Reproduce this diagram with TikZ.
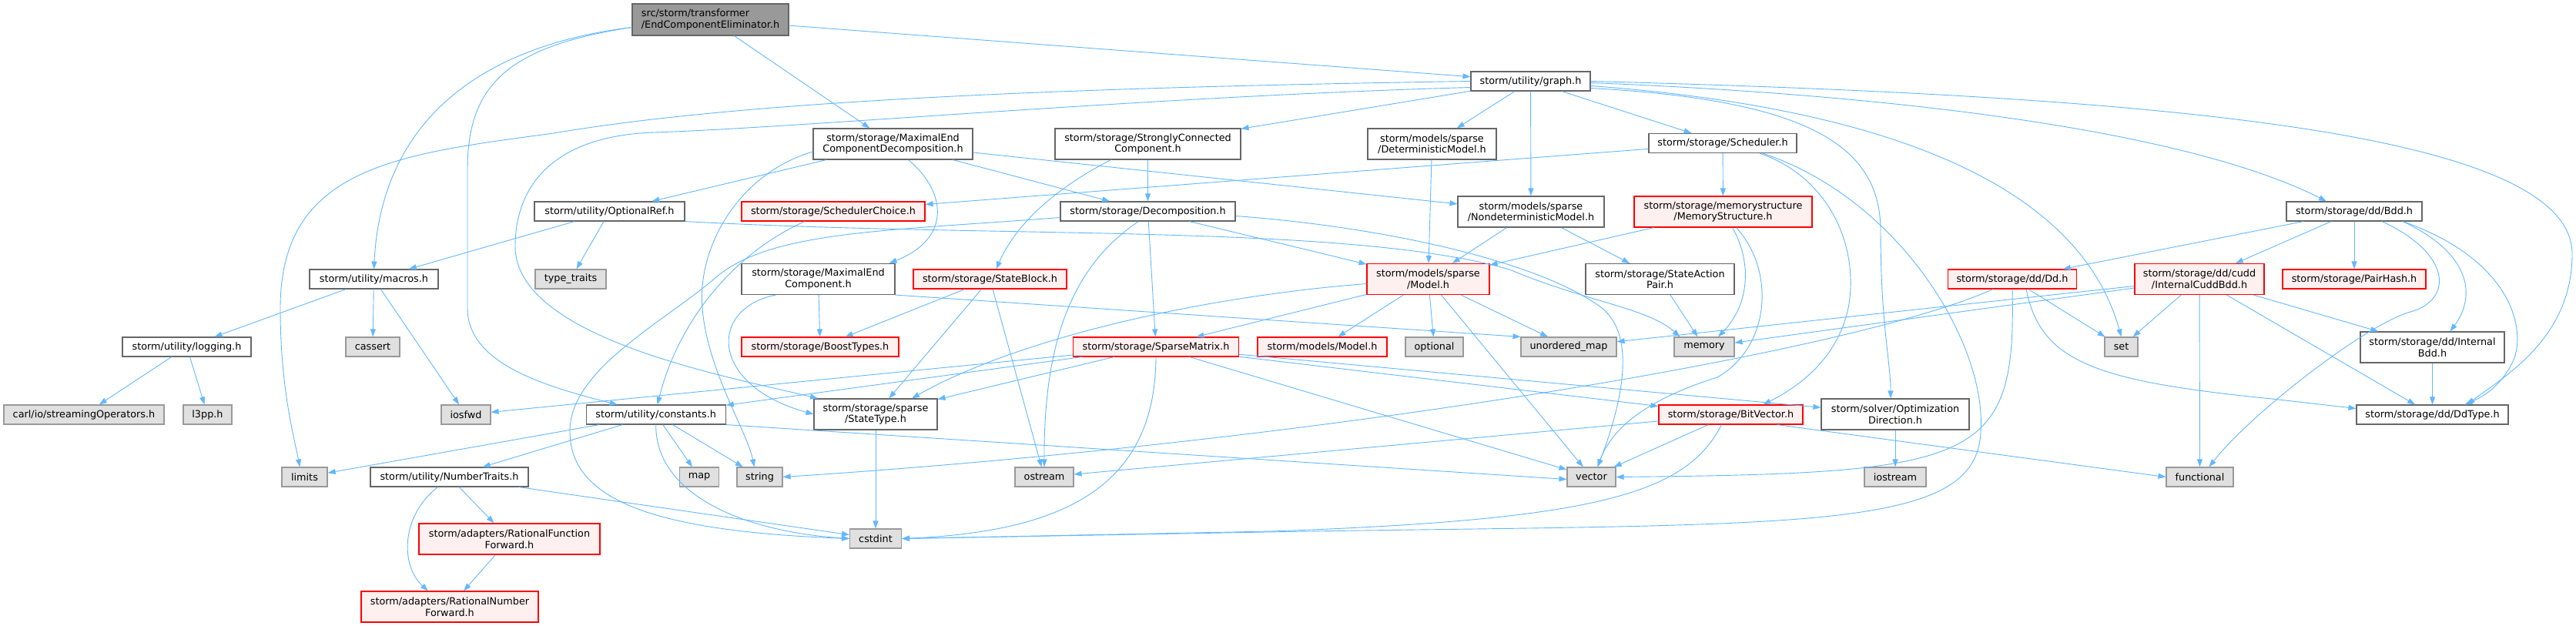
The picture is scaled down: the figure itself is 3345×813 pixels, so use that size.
\documentclass[tikz,border=0pt]{standalone}
\usepackage{fontspec}
\setmainfont{DejaVu Sans}
\usepackage{xcolor}
\usetikzlibrary{arrows.meta}
\definecolor{edgeblue}{HTML}{63B8FF}
\definecolor{nodegray}{HTML}{666666}
\definecolor{rootgray}{HTML}{999999}
\definecolor{sysgray}{HTML}{999999}
\definecolor{sysfill}{HTML}{E0E0E0}
\definecolor{cutfill}{HTML}{FFF0F0}
\definecolor{cutred}{HTML}{FF0000}

\begin{document}
\begin{tikzpicture}[x=1pt,y=-1pt,
    hdr/.style={draw=nodegray, fill=white, line width=1.1pt, inner xsep=5pt, inner ysep=3pt,
        minimum height=25pt, align=center, font=\fontsize{12.8}{14.5}\selectfont},
    tall/.style={minimum height=40pt},
    mainhdr/.style={hdr, fill=rootgray},
    syshdr/.style={hdr, draw=sysgray, fill=sysfill},
    cuthdr/.style={hdr, draw=cutred, fill=cutfill},
    inc/.style={draw=edgeblue, line width=0.9pt, -{Triangle[length=10pt,width=7pt]}}]

    % 画布
    \fill[white] (0,0) rectangle (3345,813);
    \useasboundingbox (0,0) rectangle (3345,813);

    % 第一层
    \node[mainhdr, align=left, minimum width=203pt, minimum height=41pt] (root) at (922.5,25.5) {src/storm/transformer\\/EndComponentEliminator.h};
    \node[hdr, minimum width=155pt] (graph) at (1987.5,105.5) {storm/utility/graph.h};

    % 第二层
    \node[hdr, tall, minimum width=207pt] (mecd) at (1159.5,187) {storm/storage/MaximalEnd\\ComponentDecomposition.h};
    \node[hdr, tall, minimum width=241pt] (scc) at (1490.5,187) {storm/storage/StronglyConnected\\Component.h};
    \node[hdr, tall, minimum width=167pt] (detm) at (1859.5,187) {storm/models/sparse\\/DeterministicModel.h};
    \node[hdr, minimum width=192pt] (sched) at (2237,186) {storm/storage/Scheduler.h};

    % 第三层
    \node[hdr, minimum width=195pt] (optref) at (791.5,274.5) {storm/utility/OptionalRef.h};
    \node[cuthdr, minimum width=238pt] (schedchoice) at (1082,274.5) {storm/storage/SchedulerChoice.h};
    \node[hdr, minimum width=227pt] (decomp) at (1490.5,274.5) {storm/storage/Decomposition.h};
    \node[hdr, tall, minimum width=190pt] (ndm) at (1988,275) {storm/models/sparse\\/NondeterministicModel.h};
    \node[cuthdr, tall, minimum width=231pt] (memstruct) at (2237.5,275) {storm/storage/memorystructure\\/MemoryStructure.h};
    \node[hdr, minimum width=176pt] (bdd) at (3057,274.5) {storm/storage/dd/Bdd.h};

    % 第四层
    \node[hdr, minimum width=167pt] (macros) at (485.5,362.5) {storm/utility/macros.h};
    \node[syshdr, minimum width=92pt] (typetraits) at (741,362.5) {type\_traits};
    \node[hdr, tall, minimum width=199pt] (mec) at (1062.5,362.5) {storm/storage/MaximalEnd\\Component.h};
    \node[cuthdr, minimum width=199pt] (stateblock) at (1285.5,362.5) {storm/storage/StateBlock.h};
    \node[cuthdr, tall, minimum width=159pt] (model) at (1854.5,362.5) {storm/models/sparse\\/Model.h};
    \node[hdr, tall, minimum width=193pt] (sap) at (2155.5,362.5) {storm/storage/StateAction\\Pair.h};
    \node[cuthdr, minimum width=167pt] (dd) at (2613,362.5) {storm/storage/dd/Dd.h};
    \node[cuthdr, tall, minimum width=168pt] (icbdd) at (2856,362.5) {storm/storage/dd/cudd\\/InternalCuddBdd.h};
    \node[cuthdr, minimum width=186pt] (pairhash) at (3057,362.5) {storm/storage/PairHash.h};

    % 第五层
    \node[hdr, minimum width=167pt] (logging) at (242.5,450.5) {storm/utility/logging.h};
    \node[syshdr, minimum width=70pt] (cassert) at (484,450.5) {cassert};
    \node[cuthdr, minimum width=204pt] (boosttypes) at (1065,450.5) {storm/storage/BoostTypes.h};
    \node[cuthdr, minimum width=215pt] (spmat) at (1501,450.5) {storm/storage/SparseMatrix.h};
    \node[cuthdr, minimum width=168pt] (modelh) at (1717,450.5) {storm/models/Model.h};
    \node[syshdr, minimum width=75pt] (optional) at (1862.5,450.5) {optional};
    \node[syshdr, minimum width=124pt] (umap) at (2037,450.5) {unordered\_map};
    \node[syshdr, minimum width=78pt] (memory) at (2213,450.5) {memory};
    \node[syshdr, minimum width=43pt] (set) at (2754.5,450.5) {set};
    \node[hdr, tall, minimum width=187pt] (ibdd) at (3158.5,451) {storm/storage/dd/Internal\\Bdd.h};

    % 第六层
    \node[syshdr, minimum width=208pt] (carl) at (109,538.5) {carl/io/streamingOperators.h};
    \node[syshdr, minimum width=63pt] (lpp) at (269.5,538.5) {l3pp.h};
    \node[syshdr, minimum width=64pt] (iosfwd) at (605,538.5) {iosfwd};
    \node[hdr, minimum width=181pt] (consts) at (851.7,538.5) {storm/utility/constants.h};
    \node[hdr, tall, minimum width=160pt] (statetype) at (1137,538) {storm/storage/sparse\\/StateType.h};
    \node[cuthdr, minimum width=187pt] (bitvec) at (2247.5,538.5) {storm/storage/BitVector.h};
    \node[hdr, tall, minimum width=192pt] (optdir) at (2461,538) {storm/solver/Optimization\\Direction.h};
    \node[hdr, minimum width=197pt] (ddtype) at (3158.5,538.5) {storm/storage/dd/DdType.h};

    % 第七层
    \node[syshdr, minimum width=59pt] (limits) at (395.5,619.5) {limits};
    \node[hdr, minimum width=205pt] (numtraits) at (583.5,619.5) {storm/utility/NumberTraits.h};
    \node[syshdr, minimum width=51pt] (map) at (908,619.5) {map};
    \node[syshdr, minimum width=59pt] (string) at (986.5,619.5) {string};
    \node[syshdr, minimum width=76pt] (ostream) at (1356,619.5) {ostream};
    \node[syshdr, minimum width=63pt] (vector) at (2066.5,619.5) {vector};
    \node[syshdr, minimum width=80pt] (iostream) at (2461,619.5) {iostream};
    \node[syshdr, minimum width=87pt] (functional) at (2856.5,619.5) {functional};

    % 第八、九层
    \node[cuthdr, tall, minimum width=235pt] (rff) at (661.5,700) {storm/adapters/RationalFunction\\Forward.h};
    \node[syshdr, minimum width=67pt] (cstdint) at (1137,699.5) {cstdint};
    \node[cuthdr, tall, minimum width=230pt] (rnf) at (584,788) {storm/adapters/RationalNumber\\Forward.h};

    % 根文件的连线
    \draw[inc] (root) -- (graph);
    \draw[inc] (root) -- (mecd);
    \draw[inc] ([yshift=-10pt]root.west) .. controls (620,60) and (495,160) .. (macros.north);
    \draw[inc] ([yshift=-10pt]root.west) .. controls (660,60) and (607,110) .. (607,220) -- (607,400) .. controls (607,470) and (700,500) .. ([xshift=-50pt]consts.north);

    % graph.h
    \draw[inc] (graph.west) .. controls (1500,112) and (1000,125) .. (719,173) .. controls (520,200) and (364,215) .. (364,400) .. controls (364,500) and (380,560) .. ([xshift=-6pt]limits.north);
    \draw[inc] ([yshift=-8pt]graph.west) .. controls (1500,125) and (1050,165) .. (850,172) .. controls (720,176) and (669,240) .. (669,320) .. controls (669,440) and (950,490) .. ([xshift=-75pt]statetype.north);
    \draw[inc] (graph) -- (scc);
    \draw[inc] (graph) -- (detm);
    \draw[inc] (graph) -- (ndm);
    \draw[inc] (graph) -- (sched);
    \draw[inc] ([yshift=-2pt]graph.east) .. controls (2500,125) and (2850,175) .. ([xshift=-36pt]bdd.north);
    \draw[inc] ([yshift=-6pt]graph.east) .. controls (2450,140) and (2700,240) .. (set.north);
    \draw[inc] (graph.east) .. controls (2800,125) and (3340,170) .. (3340,330) .. controls (3340,440) and (3250,490) .. ([xshift=45pt]ddtype.north);
    \draw[inc] ([yshift=-9pt]graph.east) .. controls (2350,130) and (2442,190) .. (2442,300) .. controls (2442,420) and (2455,470) .. ([xshift=-6pt]optdir.north);

    % 第二层的连线
    \draw[inc] (mecd) -- (decomp);
    \draw[inc] (mecd) -- (ndm);
    \draw[inc] (mecd) -- (optref);
    \draw[inc] ([xshift=20pt]mecd.south) .. controls (1230,250) and (1235,310) .. ([xshift=-8pt]mec.north east);
    \draw[inc] ([yshift=-10pt]mecd.west) .. controls (960,225) and (905,320) .. (912,400) .. controls (918,480) and (970,560) .. ([xshift=-7pt]string.north);
    \draw[inc] (scc) -- (decomp);
    \draw[inc] ([xshift=-48pt]scc.south) .. controls (1370,245) and (1320,290) .. ([xshift=8pt]stateblock.north);
    \draw[inc] (detm) -- (model);
    \draw[inc] (sched) -- (schedchoice);
    \draw[inc] (sched) -- (memstruct);
    \draw[inc] ([xshift=48pt]sched.south) .. controls (2375,230) and (2415,320) .. (2400,400) .. controls (2385,470) and (2330,505) .. ([xshift=42pt]bitvec.north);
    \draw[inc] ([xshift=52pt]sched.south) .. controls (2470,260) and (2580,450) .. (2572,560) .. controls (2568,690) and (2350,680) .. (1700,690) -- (cstdint.east);

    % 第三层的连线
    \draw[inc] (optref) -- (macros);
    \draw[inc] (optref) -- (typetraits);
    \draw[inc] (optref.south east) .. controls (1300,310) and (1750,290) .. (1960,350) .. controls (2060,392) and (2140,400) .. ([xshift=8pt]memory.north west);
    \draw[inc] ([xshift=-37pt]schedchoice.south) .. controls (950,330) and (880,420) .. ([xshift=2pt]consts.north);
    \draw[inc] (decomp) -- (spmat);
    \draw[inc] (decomp) -- (model);
    \draw[inc] ([xshift=-12pt]decomp.south) .. controls (1400,340) and (1355,430) .. (ostream.north);
    \draw[inc] ([yshift=-6pt]decomp.east) .. controls (1800,295) and (2000,340) .. (2080,400) .. controls (2130,440) and (2100,540) .. ([xshift=8pt]vector.north);
    \draw[inc] ([yshift=-8pt]decomp.west) .. controls (1150,300) and (1000,300) .. (930,360) .. controls (860,420) and (740,480) .. (740,560) .. controls (740,650) and (850,690) .. (cstdint.west);
    \draw[inc] (ndm) -- (model);
    \draw[inc] (ndm) -- (sap);
    \draw[inc] (memstruct) -- (model);
    \draw[inc] ([xshift=12pt]memstruct.south) .. controls (2275,340) and (2272,395) .. ([xshift=18pt]memory.north);
    \draw[inc] ([xshift=17pt]memstruct.south) .. controls (2305,350) and (2300,450) .. (2230,490) .. controls (2150,515) and (2095,550) .. ([xshift=8pt]vector.north);
    \draw[inc] (bdd) -- (dd);
    \draw[inc] (bdd) -- (icbdd);
    \draw[inc] (bdd) -- (pairhash);
    \draw[inc] ([xshift=36pt]bdd.south) .. controls (3185,330) and (3185,390) .. (3130,405) .. controls (3070,422) and (2920,540) .. ([xshift=12pt]functional.north);
    \draw[inc] ([xshift=63pt]bdd.south) .. controls (3210,330) and (3215,385) .. ([xshift=23pt]ibdd.north);
    \draw[inc] ([xshift=63pt]bdd.south) .. controls (3255,335) and (3280,420) .. (3265,465) .. controls (3250,500) and (3225,515) .. ([xshift=42pt]ddtype.north);

    % 第四层的连线
    \draw[inc] (macros) -- (logging);
    \draw[inc] (macros) -- (cassert);
    \draw[inc] (macros) -- (iosfwd);
    \draw[inc] (mec) -- (boosttypes);
    \draw[inc] ([xshift=-55pt]mec.south) .. controls (920,400) and (920,500) .. (statetype.west);
    \draw[inc] (mec.south east) -- (umap.north west);
    \draw[inc] (stateblock) -- (boosttypes);
    \draw[inc] (stateblock) -- (statetype);
    \draw[inc] (stateblock) -- (ostream);
    \draw[inc] ([yshift=-6pt]model.west) .. controls (1560,385) and (1320,440) .. ([xshift=47pt]statetype.north);
    \draw[inc] (model) -- (spmat);
    \draw[inc] (model) -- (modelh);
    \draw[inc] (model) -- (optional);
    \draw[inc] (model) -- (vector);
    \draw[inc] (model) -- (umap);
    \draw[inc] (sap) -- (memory);
    \draw[inc] ([xshift=-25pt]dd.south) .. controls (2400,460) and (1700,575) .. (string.east);
    \draw[inc] (dd.south) .. controls (2618,600) and (2570,615) .. (vector.east);
    \draw[inc] (dd) -- (set);
    \draw[inc] ([xshift=18pt]dd.south) .. controls (2650,470) and (2720,495) .. (2950,518) -- ([yshift=8pt]ddtype.west);
    \draw[inc] (icbdd) -- (set);
    \draw[inc] (icbdd) -- (functional);
    \draw[inc] (icbdd) -- (ddtype);
    \draw[inc] (icbdd) -- (ibdd);
    \draw[inc] (icbdd) -- (memory);
    \draw[inc] (icbdd) -- (umap);

    % 第五层及以下的连线
    \draw[inc] (logging) -- (carl);
    \draw[inc] (logging) -- (lpp);
    \draw[inc] (spmat) -- (iosfwd);
    \draw[inc] (spmat) -- (consts);
    \draw[inc] (spmat) -- (statetype);
    \draw[inc] (spmat.south) .. controls (1500,620) and (1400,690) .. (cstdint.east);
    \draw[inc] (spmat) -- (vector);
    \draw[inc] (spmat) -- (bitvec);
    \draw[inc] (spmat) -- (optdir);
    \draw[inc] (ibdd) -- (ddtype);
    \draw[inc] (consts) -- (numtraits);
    \draw[inc] (consts) -- (limits);
    \draw[inc] (consts) -- (map);
    \draw[inc] (consts) -- (string);
    \draw[inc] (consts.south) .. controls (851,640) and (960,690) .. (cstdint.west);
    \draw[inc] (consts.south east) -- ([yshift=-3pt]vector.west);
    \draw[inc] (statetype) -- (cstdint);
    \draw[inc] (bitvec) -- (ostream);
    \draw[inc] (bitvec) -- (vector);
    \draw[inc] ([xshift=-12pt]bitvec.south) .. controls (2190,640) and (2080,675) .. (1650,690) -- (cstdint.east);
    \draw[inc] ([xshift=60pt]bitvec.south) -- (functional.west);
    \draw[inc] (optdir) -- (iostream);
    \draw[inc] (numtraits) -- (rff);
    \draw[inc] ([xshift=-15pt]numtraits.south) .. controls (520,670) and (520,735) .. ([xshift=-28pt]rnf.north);
    \draw[inc] (numtraits) -- (cstdint);
    \draw[inc] (rff) -- (rnf);
\end{tikzpicture}
\end{document}
